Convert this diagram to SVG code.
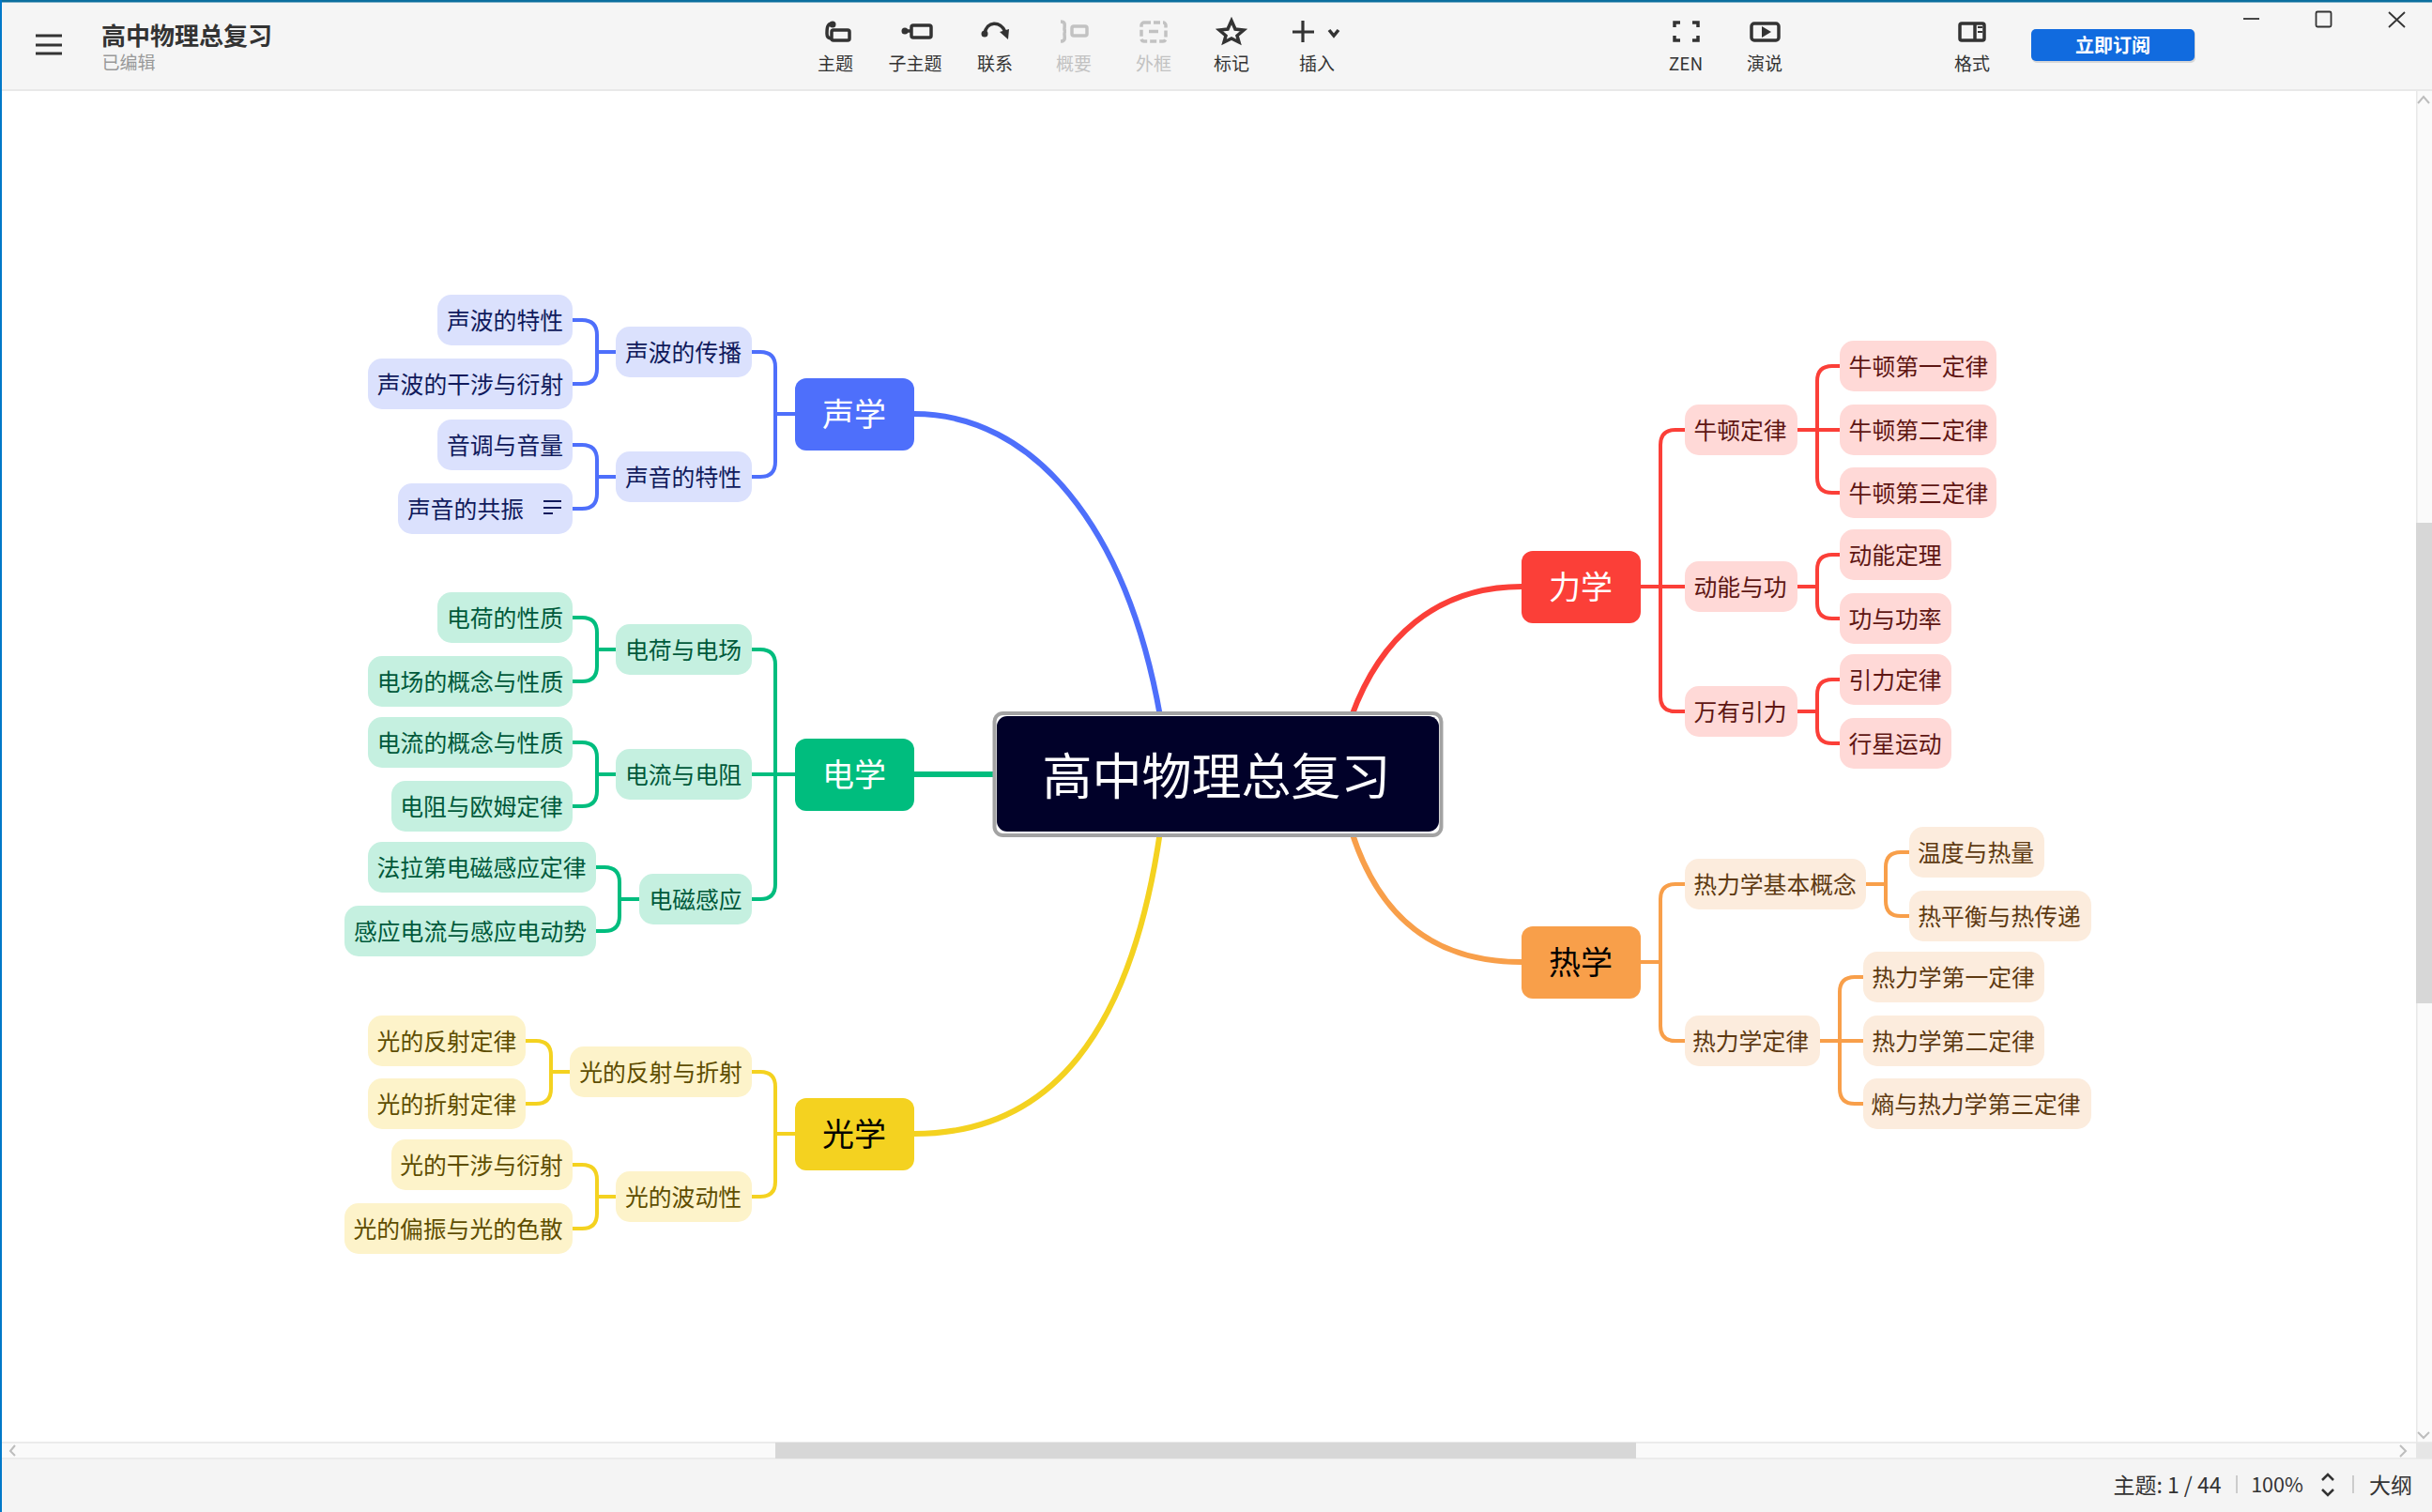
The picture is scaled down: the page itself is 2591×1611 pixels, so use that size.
<svg xmlns="http://www.w3.org/2000/svg" width="2591" height="1611" viewBox="0 0 2591 1611">
<style>
text{font-family:"Noto Sans CJK SC","Noto Sans",sans-serif;text-anchor:middle;dominant-baseline:central;transform:translateY(-1.5px)}
.c{fill:none;stroke-linecap:butt;stroke-width:4}
.lab{font-size:19px;fill:#333}.dis{font-size:19px;fill:#c2c2c2}
.ic{fill:none;stroke:#333;stroke-width:3.5}.icd{fill:none;stroke:#c2c2c2;stroke-width:3.5}
.n{font-size:24.8px}.r{font-size:34px}
.b rect{fill:#dbe1fd}.b text{fill:#101a5c}.b .rt{fill:#4e6ffb}.b .r{fill:#fff}
.g rect{fill:#c5f0e0}.g text{fill:#00593b}.g .rt{fill:#00bd7e}.g .r{fill:#fff}
.y rect{fill:#fdf3ca}.y text{fill:#5e4d00}.y .rt{fill:#f4d220}.y .r{fill:#000}
.o rect{fill:#ffd9d7}.o text{fill:#5e1613}.o .rt{fill:#fb3f38}.o .r{fill:#fff}
.h rect{fill:#fcecdd}.h text{fill:#5e3a12}.h .rt{fill:#f89f4a}.h .r{fill:#000}
.sb{stroke:#4e6ffb}.sg{stroke:#00bd7e}.sy{stroke:#f4d220}.so{stroke:#fb3f38}.sh{stroke:#f89f4a}
</style>
<rect width="2591" height="1611" fill="#fff"/>
<g id="chrome">
<rect x="0" y="0" width="2591" height="95" fill="#f5f5f5"/>
<rect x="0" y="95" width="2591" height="2" fill="#e8e8e8"/>
<rect x="0" y="0" width="2591" height="2.5" fill="#0b6f9e"/>
<rect x="2574" y="97" width="17" height="1440" fill="#fafafa"/>
<rect x="2574" y="97" width="1.5" height="1440" fill="#e8e8e8"/>
<rect x="2574" y="557" width="17" height="512" fill="#d7d7d7"/>
<rect x="0" y="1537" width="2574" height="17" fill="#fafafa"/>
<path d="M0 1537H2591M0 1554H2591" stroke="#e6e6e6" stroke-width="1.5"/>
<rect x="826" y="1537" width="917" height="17" fill="#d7d7d7"/>
<rect x="2574" y="1537" width="17" height="17" fill="#e6e6e6"/>
<rect x="0" y="1555" width="2591" height="56" fill="#f4f4f4"/>
<rect x="0" y="0" width="2" height="1611" fill="#0078c8"/>
<path d="M2576 110L2582 103L2588 110M2576 1526L2582 1532L2588 1526M16 1540L11 1546L16 1551M2557 1540L2563 1546L2557 1552" fill="none" stroke="#bdbdbd" stroke-width="2"/>
<path d="M38 38H66M38 48H66M38 57H66" stroke="#333" stroke-width="3.2"/>
<text x="199" y="38" font-size="26" font-weight="700" fill="#333">高中物理总复习</text>
<text x="137" y="67" font-size="19" fill="#999">已编辑</text>
<path class="ic" d="M887 25C881 25 881 30 881 36C881 40 883 41 886 41"/><circle cx="887" cy="26" r="3.5" fill="#333"/><rect class="ic" x="886" y="32" width="19" height="11" rx="2"/>
<circle cx="964" cy="33" r="3.5" fill="#333"/><path class="ic" d="M964 33H970"/><rect class="ic" x="971" y="27" width="21" height="13" rx="2"/>
<path class="ic" d="M1049 36C1051 22 1066 22 1071 34"/><circle cx="1049" cy="36" r="3.5" fill="#333"/><path d="M1065 34L1075 31L1074 42Z" fill="#333"/>
<path class="icd" d="M1130 23C1136 23 1134 28 1134 31C1134 33 1136 33 1136 33C1136 33 1134 33 1134 36C1134 39 1136 44 1130 44"/><rect class="icd" x="1142" y="28" width="16" height="10" rx="2"/>
<rect class="icd" x="1216" y="24" width="26" height="20" rx="3" stroke-dasharray="7 3"/><path class="icd" d="M1224 33.500H1234"/>
<path class="ic" d="M1312 22L1316 31L1325 32L1318 38L1320 45L1312 41L1304 45L1306 38L1299 32L1308 31Z"/>
<path d="M1388 22V45M1377 34H1400" stroke="#333" stroke-width="3.2"/>
<path class="ic" stroke-width="2.500" d="M1416 32L1421 38L1426 32"/>
<path class="ic" d="M1784 29V24H1790M1803 24H1809V29M1809 38V43H1803M1790 43H1784V38"/>
<rect class="ic" x="1866" y="25" width="29" height="18" rx="3"/><path d="M1877 28L1887 34L1877 40Z" fill="#333"/>
<rect class="ic" x="2088" y="25" width="26" height="18" rx="2"/><path class="ic" d="M2104 25V43"/><path d="M2107 29H2112M2107 34H2112" stroke="#333" stroke-width="2"/>
<rect x="2165" y="32" width="174" height="35" rx="5" fill="#000" opacity=".12"/>
<rect x="2164" y="31" width="174" height="34" rx="5" fill="#116bdf"/>
<text x="2251" y="49" font-size="20" font-weight="700" fill="#fff">立即订阅</text>
<path d="M2390 20H2407" stroke="#333" stroke-width="1.800"/>
<rect x="2467.500" y="12.500" width="16" height="16" rx="1.500" fill="none" stroke="#333" stroke-width="1.800"/>
<path d="M2545 13L2562 29M2562 13L2545 29" stroke="#333" stroke-width="1.800"/>
<text class="lab" x="890" y="68">主题</text><text class="lab" x="975" y="68">子主题</text><text class="lab" x="1060" y="68">联系</text>
<text class="dis" x="1144" y="68">概要</text><text class="dis" x="1229" y="68">外框</text>
<text class="lab" x="1312" y="68">标记</text><text class="lab" x="1403" y="68">插入</text>
<text class="lab" x="1796" y="68">ZEN</text><text class="lab" x="1880" y="68">演说</text><text class="lab" x="2101" y="68">格式</text>
<text x="2309" y="1582" font-size="23" fill="#333">主题: 1 / 44</text>
<path d="M2383 1572V1591M2507 1572V1591" stroke="#ccc" stroke-width="2"/>
<text x="2426" y="1582" font-size="21.5" fill="#333">100%</text>
<path d="M2474 1577L2480 1571L2486 1577M2474 1587L2480 1593L2486 1587" fill="none" stroke="#333" stroke-width="2.500"/>
<text x="2547" y="1582" font-size="23" fill="#333">大纲</text>
</g>

<g id="connectors">
<path d="M974 441C1100 441 1200 560 1236 763" fill="none" class="sb" stroke-width="6"/>
<path d="M974 825H1062" fill="none" class="sg" stroke-width="6"/>
<path d="M974 1208C1120 1208 1205 1100 1236 886" fill="none" class="sy" stroke-width="6"/>
<path d="M1440 763C1470 680 1530 625 1621 625" fill="none" class="so" stroke-width="6"/>
<path d="M1440 886C1470 980 1530 1025 1621 1025" fill="none" class="sh" stroke-width="6"/>
<g class="sb">
<path class="c" d="M847 441H826M801 375H810Q826 375 826 391V492Q826 508 810 508H801"/>
<path class="c" d="M656 375H636M610 341H620Q636 341 636 357V393Q636 409 620 409H610"/>
<path class="c" d="M656 508H636M610 474H620Q636 474 636 490V526Q636 542 620 542H610"/>
</g>
<g class="sg">
<path class="c" d="M847 825H826M801 692H810Q826 692 826 708V942Q826 958 810 958H801M801 825H826"/>
<path class="c" d="M656 692H636M610 658H620Q636 658 636 674V710Q636 726 620 726H610"/>
<path class="c" d="M656 825H636M610 791H620Q636 791 636 807V843Q636 859 620 859H610"/>
<path class="c" d="M681 958H660M635 924H644Q660 924 660 940V976Q660 992 644 992H635"/>
</g>
<g class="sy">
<path class="c" d="M847 1208H826M801 1142H810Q826 1142 826 1158V1259Q826 1275 810 1275H801"/>
<path class="c" d="M607 1142H587M560 1109H571Q587 1109 587 1125V1160Q587 1176 571 1176H560"/>
<path class="c" d="M656 1275H636M610 1241H620Q636 1241 636 1257V1293Q636 1309 620 1309H610"/>
</g>
<g class="so">
<path class="c" d="M1748 625H1795M1795 458H1785Q1769 458 1769 474V742Q1769 758 1785 758H1795"/>
<path class="c" d="M1915 458H1960M1960 390H1952Q1936 390 1936 406V509Q1936 525 1952 525H1960"/>
<path class="c" d="M1915 625H1936M1960 591H1952Q1936 591 1936 607V643Q1936 659 1952 659H1960"/>
<path class="c" d="M1915 758H1936M1960 724H1952Q1936 724 1936 740V776Q1936 792 1952 792H1960"/>
</g>
<g class="sh">
<path class="c" d="M1748 1025H1769M1795 942H1785Q1769 942 1769 958V1093Q1769 1109 1785 1109H1795"/>
<path class="c" d="M1988 942H2009M2034 908H2025Q2009 908 2009 924V960Q2009 976 2025 976H2034"/>
<path class="c" d="M1939 1109H1985M1985 1041H1976Q1960 1041 1960 1057V1160Q1960 1176 1976 1176H1985"/>
</g>
</g>

<g id="center"><rect x="1059.500" y="760" width="476" height="130" rx="9" fill="#fff" stroke="#a3a3a3" stroke-width="4"/><rect x="1062" y="763" width="471" height="123" rx="11" fill="#010129"/><text x="1296" y="825" font-size="53" fill="#fff">高中物理总复习</text></g>

<g class="b">
<g id="acoustics"><rect class="rt" x="847" y="403" width="127" height="77" rx="12"/><text class="r" x="910" y="441">声学</text></g>
<g id="b1"><rect x="656" y="348" width="145" height="54" rx="15"/><text class="n" x="728" y="375">声波的传播</text></g>
<g id="b2"><rect x="656" y="481" width="145" height="54" rx="15"/><text class="n" x="728" y="508">声音的特性</text></g>
<g id="b3"><rect x="466" y="314" width="144" height="54" rx="15"/><text class="n" x="538" y="341">声波的特性</text></g>
<g id="b4"><rect x="392" y="382" width="218" height="54" rx="15"/><text class="n" x="501" y="409">声波的干涉与衍射</text></g>
<g id="b5"><rect x="466" y="447" width="144" height="54" rx="15"/><text class="n" x="538" y="474">音调与音量</text></g>
<g id="b6"><rect x="424" y="515" width="186" height="54" rx="15"/><text class="n" x="496" y="542">声音的共振</text><path d="M579 534H598M579 541H598M579 547H589" stroke="#101a5c" stroke-width="1.800" fill="none"/></g>
</g>
<g class="g">
<g id="electric"><rect class="rt" x="847" y="787" width="127" height="77" rx="12"/><text class="r" x="910" y="825">电学</text></g>
<g id="e1"><rect x="656" y="665" width="145" height="54" rx="15"/><text class="n" x="728" y="692">电荷与电场</text></g>
<g id="e2"><rect x="656" y="798" width="145" height="54" rx="15"/><text class="n" x="728" y="825">电流与电阻</text></g>
<g id="e3"><rect x="681" y="931" width="120" height="54" rx="15"/><text class="n" x="741" y="958">电磁感应</text></g>
<g id="e4"><rect x="466" y="631" width="144" height="54" rx="15"/><text class="n" x="538" y="658">电荷的性质</text></g>
<g id="e5"><rect x="392" y="699" width="218" height="54" rx="15"/><text class="n" x="501" y="726">电场的概念与性质</text></g>
<g id="e6"><rect x="392" y="764" width="218" height="54" rx="15"/><text class="n" x="501" y="791">电流的概念与性质</text></g>
<g id="e7"><rect x="417" y="832" width="193" height="54" rx="15"/><text class="n" x="513" y="859">电阻与欧姆定律</text></g>
<g id="e8"><rect x="392" y="897" width="243" height="54" rx="15"/><text class="n" x="513" y="924">法拉第电磁感应定律</text></g>
<g id="e9"><rect x="367" y="965" width="268" height="54" rx="15"/><text class="n" x="501" y="992">感应电流与感应电动势</text></g>
</g>
<g class="y">
<g id="optics"><rect class="rt" x="847" y="1170" width="127" height="77" rx="12"/><text class="r" x="910" y="1208">光学</text></g>
<g id="y1"><rect x="607" y="1115" width="194" height="54" rx="15"/><text class="n" x="704" y="1142">光的反射与折射</text></g>
<g id="y2"><rect x="656" y="1248" width="145" height="54" rx="15"/><text class="n" x="728" y="1275">光的波动性</text></g>
<g id="y3"><rect x="392" y="1082" width="168" height="54" rx="15"/><text class="n" x="476" y="1109">光的反射定律</text></g>
<g id="y4"><rect x="392" y="1149" width="168" height="54" rx="15"/><text class="n" x="476" y="1176">光的折射定律</text></g>
<g id="y5"><rect x="417" y="1214" width="193" height="54" rx="15"/><text class="n" x="513" y="1241">光的干涉与衍射</text></g>
<g id="y6"><rect x="367" y="1282" width="243" height="54" rx="15"/><text class="n" x="488" y="1309">光的偏振与光的色散</text></g>
</g>
<g class="o">
<g id="mechanics"><rect class="rt" x="1621" y="587" width="127" height="77" rx="12"/><text class="r" x="1684" y="625">力学</text></g>
<g id="m1"><rect x="1795" y="431" width="120" height="54" rx="15"/><text class="n" x="1854" y="458">牛顿定律</text></g>
<g id="m2"><rect x="1795" y="598" width="120" height="54" rx="15"/><text class="n" x="1854" y="625">动能与功</text></g>
<g id="m3"><rect x="1795" y="731" width="120" height="54" rx="15"/><text class="n" x="1854" y="758">万有引力</text></g>
<g id="m4"><rect x="1960" y="363" width="167" height="54" rx="15"/><text class="n" x="2044" y="390">牛顿第一定律</text></g>
<g id="m5"><rect x="1960" y="431" width="167" height="54" rx="15"/><text class="n" x="2044" y="458">牛顿第二定律</text></g>
<g id="m6"><rect x="1960" y="498" width="167" height="54" rx="15"/><text class="n" x="2044" y="525">牛顿第三定律</text></g>
<g id="m7"><rect x="1960" y="564" width="119" height="54" rx="15"/><text class="n" x="2019" y="591">动能定理</text></g>
<g id="m8"><rect x="1960" y="632" width="119" height="54" rx="15"/><text class="n" x="2019" y="659">功与功率</text></g>
<g id="m9"><rect x="1960" y="697" width="119" height="54" rx="15"/><text class="n" x="2019" y="724">引力定律</text></g>
<g id="m10"><rect x="1960" y="765" width="119" height="54" rx="15"/><text class="n" x="2019" y="792">行星运动</text></g>
</g>
<g class="h">
<g id="thermo"><rect class="rt" x="1621" y="987" width="127" height="77" rx="12"/><text class="r" x="1684" y="1025">热学</text></g>
<g id="t1"><rect x="1795" y="915" width="193" height="54" rx="15"/><text class="n" x="1891" y="942">热力学基本概念</text></g>
<g id="t2"><rect x="1795" y="1082" width="144" height="54" rx="15"/><text class="n" x="1865" y="1109">热力学定律</text></g>
<g id="t3"><rect x="2034" y="881" width="144" height="54" rx="15"/><text class="n" x="2105" y="908">温度与热量</text></g>
<g id="t4"><rect x="2034" y="949" width="194" height="54" rx="15"/><text class="n" x="2130" y="976">热平衡与热传递</text></g>
<g id="t5"><rect x="1985" y="1014" width="193" height="54" rx="15"/><text class="n" x="2081" y="1041">热力学第一定律</text></g>
<g id="t6"><rect x="1985" y="1082" width="193" height="54" rx="15"/><text class="n" x="2081" y="1109">热力学第二定律</text></g>
<g id="t7"><rect x="1985" y="1149" width="243" height="54" rx="15"/><text class="n" x="2105" y="1176">熵与热力学第三定律</text></g>
</g>
</svg>
